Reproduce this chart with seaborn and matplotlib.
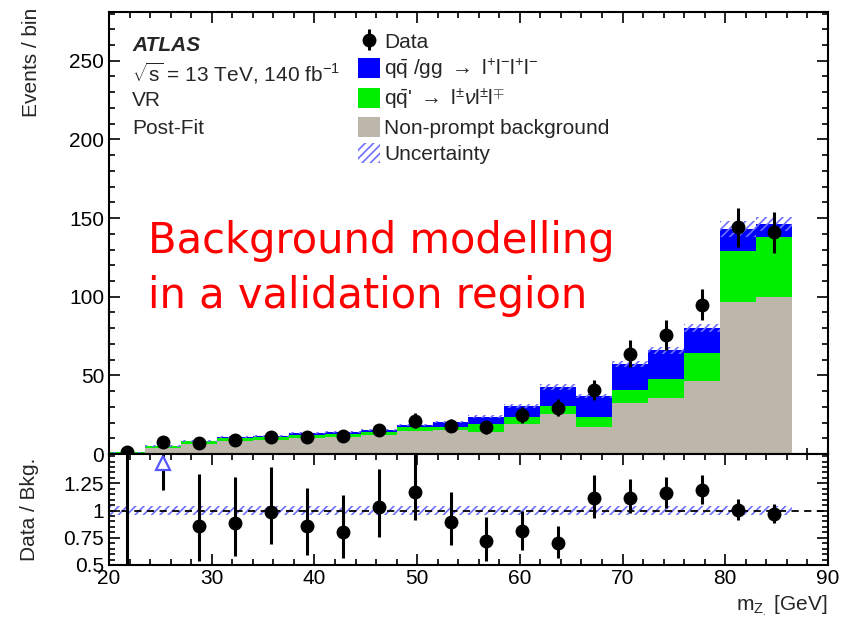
import numpy as np
import pandas as pd
import matplotlib
matplotlib.use("Agg")
import matplotlib.pyplot as plt
import seaborn as sns
from matplotlib.ticker import MultipleLocator, FixedLocator
from matplotlib.patches import Patch

# ---- binning (GeV) ----
bin_edges = [20.0, 23.5, 27.0, 30.5, 34.0, 37.5, 41.0, 44.5, 48.0, 51.5, 55.0,
             58.5, 62.0, 65.5, 69.0, 72.5, 76.0, 79.5, 83.0, 86.5]
bin_centers = [21.75, 25.25, 28.75, 32.25, 35.75, 39.25, 42.75, 46.25, 49.75,
               53.25, 56.75, 60.25, 63.75, 67.25, 70.75, 74.25, 77.75, 81.25, 84.75]

# ---- post-fit background yields per bin ----
nonprompt = [0.5, 4.0, 6.5, 8.2, 9.2, 10.2, 10.7, 12.1, 14.8, 15.5, 14.0, 19.0,
             25.3, 17.4, 32.3, 35.9, 46.5, 96.4, 99.6]
wz = [0.5, 1.0, 1.7, 2.1, 1.8, 1.8, 2.0, 1.7, 2.2, 1.5, 5.0, 4.4, 5.5, 6.0,
      8.3, 11.7, 17.4, 32.9, 38.2]
zz = [0.1, 0.2, 0.3, 0.3, 0.6, 1.3, 1.5, 1.4, 1.5, 3.3, 4.6, 7.4, 11.7, 13.5,
      16.5, 18.2, 16.1, 13.8, 8.5]
bkg_unc = [0.3, 0.5, 0.6, 0.6, 0.6, 0.7, 0.7, 0.7, 0.8, 0.9, 1.0, 1.3, 1.7,
           1.5, 2.0, 2.3, 2.7, 5.0, 4.5]

# ---- observed data ----
data = [1.0, 7.8, 6.8, 9.2, 10.7, 11.0, 11.3, 15.3, 21.2, 18.0, 17.0, 24.8,
        29.5, 40.8, 63.7, 75.8, 94.9, 144.0, 141.0]
data_err = [1.0, 2.8, 2.6, 3.0, 3.3, 3.3, 3.4, 3.9, 4.6, 4.2, 4.1, 5.0, 5.5,
            6.5, 8.5, 9.5, 10.0, 12.5, 13.0]

# ---- data / background ratio with error bar ends ----
ratio = [2.0, 1.9, 0.855, 0.886, 0.99, 0.855, 0.806, 1.037, 1.17, 0.898, 0.72,
         0.81, 0.70, 1.12, 1.12, 1.16, 1.19, 1.006, 0.97]
ratio_lo = [0.45, 1.19, 0.54, 0.58, 0.69, 0.59, 0.56, 0.76, 0.91, 0.68, 0.54,
            0.64, 0.56, 0.93, 0.98, 1.02, 1.06, 0.91, 0.89]
ratio_hi = [3.0, 2.6, 1.34, 1.31, 1.40, 1.21, 1.14, 1.38, 1.55, 1.17, 0.94,
            1.00, 0.86, 1.33, 1.29, 1.31, 1.33, 1.11, 1.06]
ratio_unc = [0.045, 0.045, 0.045, 0.045, 0.045, 0.045, 0.045, 0.045, 0.045,
             0.045, 0.045, 0.045, 0.045, 0.045, 0.045, 0.045, 0.045, 0.04, 0.04]

labels = {
    "zz": r"q$\bar{\mathrm{q}}$ /gg $\rightarrow$ l$^{+}$l$^{-}$l$^{+}$l$^{-}$",
    "wz": r"q$\bar{\mathrm{q}}$' $\rightarrow$ l$^{\pm}$$\nu$l$^{\pm}$l$^{\mp}$",
    "np": "Non-prompt background",
}
colors = {"zz": "#0000ff", "wz": "#00ee00", "np": "#bdb6ab"}
hatch_color = "#6f6fff"

sns.set_theme(style="ticks")
plt.rcParams["font.family"] = ["Liberation Sans", "DejaVu Sans"]
plt.rcParams["mathtext.fontset"] = "custom"
plt.rcParams["mathtext.rm"] = "Liberation Sans"
plt.rcParams["mathtext.it"] = "Liberation Sans:italic"
plt.rcParams["hatch.linewidth"] = 1.2
fs = 15

fig = plt.figure(figsize=(8.63, 6.29), dpi=100)
W, H = 863, 629
x0, x1 = 109 / W, 828 / W
ax = fig.add_axes([x0, 1 - 454 / H, x1 - x0, (454 - 12) / H])
axr = fig.add_axes([x0, 1 - 565 / H, x1 - x0, (565 - 454) / H], sharex=ax)

# stacked background histogram
df = pd.concat([
    pd.DataFrame({"x": bin_centers, "w": zz, "proc": "zz"}),
    pd.DataFrame({"x": bin_centers, "w": wz, "proc": "wz"}),
    pd.DataFrame({"x": bin_centers, "w": nonprompt, "proc": "np"}),
])
sns.histplot(data=df, x="x", weights="w", hue="proc", hue_order=["zz", "wz", "np"],
             palette=colors, bins=bin_edges, multiple="stack", element="step",
             fill=True, alpha=1, linewidth=0, legend=False, ax=ax)

total = np.array(nonprompt) + np.array(wz) + np.array(zz)
unc = np.array(bkg_unc)
widths = np.diff(bin_edges)
ax.bar(bin_edges[:-1], 2 * unc, bottom=total - unc, width=widths, align="edge",
       fill=False, hatch="////", edgecolor=hatch_color, linewidth=0, zorder=3)

eb = ax.errorbar(bin_centers, data, yerr=data_err, fmt="o", color="black",
                 markersize=9, elinewidth=2.2, capsize=0, zorder=5)

ax.set_xlim(20, 90)
ax.set_ylim(0, 281)
ax.set_ylabel("Events / bin", fontsize=fs, ha="right")
ax.yaxis.set_label_coords(-0.094, 1.01)
ax.set_xlabel("")

# ratio panel
axr.bar(bin_edges[:-1], 2 * np.array(ratio_unc), bottom=1 - np.array(ratio_unc),
        width=widths, align="edge", fill=False, hatch="////",
        edgecolor=hatch_color, linewidth=0, zorder=2)
axr.axhline(1.0, color="black", ls=(0, (4, 3)), lw=1.3, zorder=3)
r = np.array(ratio)
lo = np.array(ratio_lo)
hi = np.array(ratio_hi)
rtop = 1.52
axr.errorbar(bin_centers, r, yerr=[r - lo, hi - r], fmt="o", color="black",
             markersize=9, elinewidth=2.2, capsize=0, zorder=5)
off = (r > rtop) & (lo > 0.5)
axr.plot(np.array(bin_centers)[off], np.full(off.sum(), 1.435), ls="none",
         marker="^", markersize=10, markerfacecolor="white",
         markeredgecolor="#5555ff", markeredgewidth=1.6, zorder=6)
axr.set_ylim(0.5, rtop)
axr.set_ylabel("Data / Bkg.", fontsize=fs)
axr.yaxis.set_label_coords(-0.097, 0.5)
axr.set_xlabel(r"m$_{\mathrm{Z}_{.}}$ [GeV]", fontsize=fs, ha="right")
axr.xaxis.set_label_coords(1.0, -0.37)
axr.xaxis.label.set_verticalalignment("center")

for a in (ax, axr):
    a.tick_params(which="both", direction="in", top=True, right=True,
                  labelsize=fs, width=1.2, colors="black")
    a.tick_params(which="major", length=8)
    a.tick_params(which="minor", length=4)
    a.xaxis.set_major_locator(MultipleLocator(10))
    a.xaxis.set_minor_locator(MultipleLocator(2))
    for s in a.spines.values():
        s.set_linewidth(1.5)
        s.set_color("black")
ax.tick_params(labelbottom=False)
ax.yaxis.set_major_locator(MultipleLocator(50))
ax.yaxis.set_minor_locator(MultipleLocator(10))
axr.yaxis.set_major_locator(FixedLocator([0.5, 0.75, 1.0, 1.25]))
axr.yaxis.set_minor_locator(MultipleLocator(0.05))
axr.set_yticklabels(["0.5", "0.75", "1", "1.25"])
axr.tick_params(axis="x", pad=3)

# labels
tx = (132 - 109) / 719
ax.text(tx, 0.925, "ATLAS", transform=ax.transAxes, fontsize=fs,
        fontweight="bold", fontstyle="italic", va="center")
ax.text(tx, 0.862, r"$\sqrt{\mathrm{s}}$ = 13 TeV, 140 fb$^{-1}$",
        transform=ax.transAxes, fontsize=fs, va="center")
ax.text(tx, 0.800, "VR", transform=ax.transAxes, fontsize=fs, va="center")
ax.text(tx, 0.737, "Post-Fit", transform=ax.transAxes, fontsize=fs, va="center")

handles = [eb,
           Patch(facecolor=colors["zz"], edgecolor="none"),
           Patch(facecolor=colors["wz"], edgecolor="none"),
           Patch(facecolor=colors["np"], edgecolor="none"),
           Patch(facecolor="none", edgecolor=hatch_color, hatch="////", linewidth=0)]
leg_labels = ["Data", labels["zz"], labels["wz"], labels["np"], "Uncertainty"]
fig.legend(handles, leg_labels, loc="upper left",
           bbox_to_anchor=(358 / W, 1 - 31 / H), frameon=False, fontsize=fs,
           handlelength=1.05, handleheight=1.1, handletextpad=0.2,
           labelspacing=0.25, borderaxespad=0, borderpad=0)

# annotation
red_kw = dict(transform=ax.transAxes, color="#ff0000", fontsize=30,
              family=["DejaVu Sans"], va="baseline")
ax.text((148 - 109) / 719, 1 - (253 - 12) / 442, "Background modelling", **red_kw)
ax.text((148 - 109) / 719, 1 - (308 - 12) / 442, "in a validation region", **red_kw)

fig.savefig("out.png", dpi=100)
